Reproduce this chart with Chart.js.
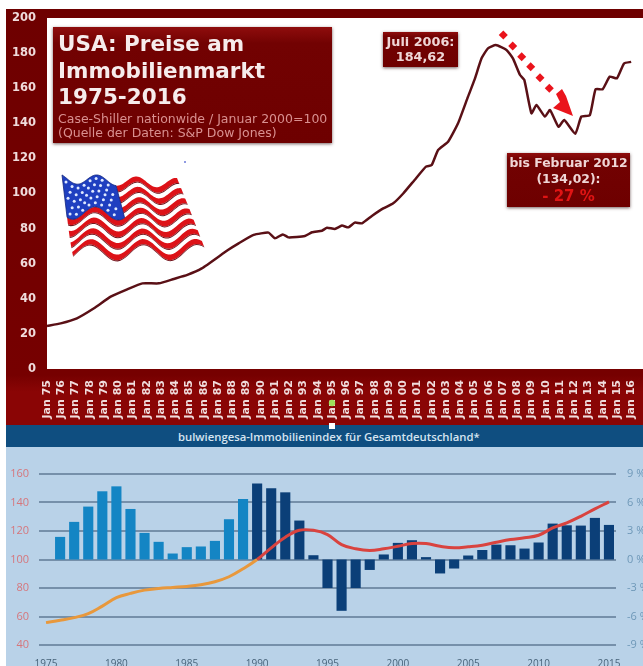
<!DOCTYPE html>
<html>
<head>
<meta charset="utf-8">
<title>Immobilienpreise USA und Deutschland</title>
<script src="https://cdn.jsdelivr.net/npm/chart.js@4"></script>
<style>
  html, body { margin: 0; padding: 0; background: #fff; overflow: hidden; }
  body { position: relative; width: 643px; height: 666px; font-family: "DejaVu Sans", sans-serif; }
  canvas { position: absolute; display: block; }
  #usChart { left: 6px; top: 9px; background: linear-gradient(#6e0000 0, #760000 88%, #8a0505 92%, #8a0505 100%); }
  #deChart { left: 6px; top: 447px; background: #b9d2e8; }
  .box {
    position: absolute; box-sizing: border-box; text-align: center; font-weight: bold; color: #efd6d6;
    background: linear-gradient(#8f0d0d 0, #720202 14%, #6e0000 100%);
    box-shadow: 0 1px 3px rgba(60, 30, 30, .7);
  }
  #titleBox { left: 53px; top: 27px; width: 279px; height: 116px; text-align: left; padding: 4px 0 0 5px; color: #f6ecec; }
  #titleBox .head { font-size: 21.5px; line-height: 26.5px; white-space: nowrap; }
  #titleBox .sub { font-size: 12.5px; line-height: 14px; font-weight: normal; color: #d99090; white-space: nowrap; margin-top: 1px; }
  #peakBox { left: 383px; top: 32px; width: 75px; height: 35px; font-size: 12.8px; line-height: 14.5px; padding-top: 3px; white-space: nowrap; }
  #lowBox { left: 507px; top: 153px; width: 123px; height: 54px; font-size: 12.4px; line-height: 16px; padding-top: 2px; white-space: nowrap; }
  #lowBox .pct { color: #e01414; font-size: 15px; line-height: 18px; }
  #band {
    position: absolute; left: 6px; top: 425px; width: 637px; height: 22px; background: #0f4e80;
    color: #d5e4f0; font: 600 11.3px "Open Sans", sans-serif; line-height: 23px;
  }
  #band span { position: absolute; left: 172px; white-space: nowrap; }
  svg { position: absolute; left: 0; top: 0; }
</style>
</head>
<body>
<canvas id="usChart" width="637" height="416"></canvas>
<div id="band"><span>bulwiengesa-Immobilienindex für Gesamtdeutschland*</span></div>
<canvas id="deChart" width="637" height="219"></canvas>

<div id="titleBox" class="box">
  <div class="head">USA: Preise am<br>Immobilienmarkt<br>1975-2016</div>
  <div class="sub">Case-Shiller nationwide / Januar 2000=100<br>(Quelle der Daten: S&amp;P Dow Jones)</div>
</div>
<div id="peakBox" class="box">Juli 2006:<br>184,62</div>
<div id="lowBox" class="box">bis Februar 2012<br>(134,02):<br><span class="pct">- 27 %</span></div>
<svg id="deco" width="643" height="666"></svg>

<script>
// Case-Shiller national index, year as a decimal
const usDates = [1975, 1975.96, 1977.1, 1978.3, 1979.47, 1980.63, 1981.7, 1982.85, 1983.9, 1984.85,
  1985.86, 1987.7, 1988.45, 1989.5, 1990.55, 1991, 1991.55, 1991.95, 1993.1, 1993.6,
  1994.3, 1994.65, 1995.2, 1995.7, 1996.15, 1996.6, 1997.1, 1997.8, 1998.6, 1999.3,
  2000, 2000.8, 2001.6, 2002, 2002.45, 2003.15, 2003.85, 2004.55, 2005, 2005.5,
  2005.95, 2006.5, 2007.25, 2007.7, 2008.2, 2008.5, 2009, 2009.35, 2009.95, 2010.3,
  2010.9, 2011.3, 2012.08, 2012.5, 2013.1, 2013.5, 2014, 2014.5, 2015, 2015.5, 2016];
const usValues = [24.5, 26, 28.9, 34.6, 41.2, 45.4, 48.8, 48.8, 51.3, 53.6,
  57.3, 67.8, 71.6, 76.4, 77.7, 74.5, 76.7, 75, 75.8, 77.9,
  78.8, 80.5, 79.8, 81.7, 80.7, 83.4, 83, 87.2, 91.5, 94.4,
  100, 107.7, 115.3, 116.2, 124.8, 129.5, 140, 155.2, 164.7, 177,
  182.7, 184.62, 181.8, 177, 167.5, 164.7, 145.7, 150.4, 143.8, 147.6,
  138, 141.9, 134.02, 143.8, 144.7, 159.4, 159.4, 166.6, 165.6, 174.1, 175];
const usFirstYear = 1975;
const usLastYear = 2016;

// bulwiengesa index and yearly change for Germany
const deYears = ["1975", "1976", "1977", "1978", "1979", "1980", "1981", "1982", "1983", "1984",
  "1985", "1986", "1987", "1988", "1989", "1990", "1991", "1992", "1993", "1994",
  "1995", "1996", "1997", "1998", "1999", "2000", "2001", "2002", "2003", "2004",
  "2005", "2006", "2007", "2008", "2009", "2010", "2011", "2012", "2013", "2014", "2015"];
const deChange = [null, 2.38, 3.96, 5.57, 7.18, 7.7, 5.32, 2.8, 1.86, 0.63,
  1.3, 1.37, 1.96, 4.24, 6.37, 8, 7.5, 7.07, 4.1, 0.45,
  -3, -5.4, -3, -1.1, 0.53, 1.75, 2.03, 0.25, -1.47, -0.95,
  0.42, 1, 1.57, 1.5, 1.15, 1.79, 3.78, 3.6, 3.57, 4.38, 3.64];
const deIndex = [55.7, 57.3, 59.2, 62, 67.3, 73.2, 76.2, 78.5, 79.7, 80.4,
  81.1, 82.3, 84.4, 87.9, 93.5, 100, 108.2, 115.6, 120.5, 120.5,
  117.5, 110.5, 107.5, 106.3, 107.5, 109.3, 111.2, 111.2, 109.3, 108.2,
  108.9, 110, 112.1, 114, 115.2, 117, 122.2, 125.7, 130.3, 135.5, 140.4];

// fixed plot box: the scale keeps exactly this size whatever its labels need
function fixSize(width, height) {
  return function (scale) {
    if (width != null) scale.width = width;
    if (height != null) scale.height = height;
    scale.paddingLeft = scale.paddingRight = scale.paddingTop = scale.paddingBottom = 0;
  };
}

const whitePlot = {
  id: "whitePlot",
  beforeDraw(chart) {
    const a = chart.chartArea;
    chart.ctx.fillStyle = "#ffffff";
    chart.ctx.fillRect(a.left, a.top, a.width, a.height);
  }
};

new Chart(document.getElementById("usChart"), {
  type: "line",
  data: {
    datasets: [{
      data: usDates.map((d, i) => ({ x: d, y: usValues[i] })),
      borderColor: "#5a1016",
      borderWidth: 2.5,
      tension: 0.15,
      pointRadius: 0
    }]
  },
  options: {
    responsive: false,
    animation: false,
    layout: { padding: { top: 9 } },
    plugins: { legend: { display: false }, tooltip: { enabled: false } },
    scales: {
      x: {
        type: "linear",
        min: usFirstYear,
        max: 2016.83,
        afterFit: fixSize(null, 56),
        grid: { display: false },
        border: { display: false },
        ticks: {
          stepSize: 1,
          includeBounds: false,
          autoSkip: false,
          minRotation: 90,
          maxRotation: 90,
          padding: 3,
          color: "#f0dcdc",
          font: { family: "DejaVu Sans", size: 11, weight: "bold" },
          callback: v => (v <= usLastYear ? "Jan " + String(v).slice(2) : "")
        }
      },
      y: {
        min: 0,
        max: 200,
        afterFit: fixSize(41, null),
        grid: { display: false },
        border: { display: false },
        ticks: {
          stepSize: 20,
          padding: 3,
          color: "#f0dcdc",
          font: { family: "DejaVu Sans", size: 11.5, weight: "bold" }
        }
      }
    }
  },
  plugins: [whitePlot]
});

new Chart(document.getElementById("deChart"), {
  data: {
    labels: deYears,
    datasets: [
      {
        type: "line",
        order: 0,
        yAxisID: "y",
        data: deIndex,
        borderWidth: 3,
        tension: 0.4,
        pointRadius: 0,
        borderColor: "#d9433f",
        segment: { borderColor: c => (c.p0DataIndex < deYears.indexOf("1990") ? "#e8983c" : "#d9433f") }
      },
      {
        type: "bar",
        order: 1,
        yAxisID: "y2",
        data: deChange,
        barPercentage: 0.72,
        categoryPercentage: 1,
        backgroundColor: deYears.map(y => (+y < 1990 ? "#1485c4" : "#0b3f78"))
      }
    ]
  },
  options: {
    responsive: false,
    animation: false,
    layout: { padding: { top: 27 } },
    plugins: { legend: { display: false }, tooltip: { enabled: false } },
    scales: {
      x: {
        afterFit: fixSize(null, 21),
        grid: { display: false },
        border: { display: false },
        ticks: {
          autoSkip: false,
          maxRotation: 0,
          padding: 5,
          color: "#47637a",
          font: { family: "Open Sans", size: 10 },
          callback(v) { const y = this.getLabelForValue(v); return +y % 5 === 0 ? y : ""; }
        }
      },
      y: {
        position: "left",
        min: 40,
        max: 160,
        afterFit: fixSize(33, null),
        grid: { color: "#7690aa", lineWidth: 2, drawTicks: false },
        border: { display: false },
        ticks: {
          stepSize: 20,
          padding: 10,
          color: "#d5767c",
          font: { family: "Open Sans", size: 11 }
        }
      },
      y2: {
        position: "right",
        min: -9,
        max: 9,
        afterFit: fixSize(27, null),
        grid: { display: false },
        border: { display: false },
        ticks: {
          stepSize: 3,
          padding: 3,
          color: "#6e98b8",
          font: { family: "Open Sans", size: 11 },
          callback: v => v + " %"
        }
      }
    }
  }
});

// overlay artwork: falling arrow, waving flag and two small specks
const deco = document.getElementById("deco");
function add(tag, attrs) {
  const el = document.createElementNS("http://www.w3.org/2000/svg", tag);
  for (const k in attrs) el.setAttribute(k, attrs[k]);
  deco.appendChild(el);
  return el;
}

[[503.3, 35], [512.7, 46], [521.7, 56.7], [530.7, 66.7], [540, 77.7], [549.3, 88.3]].forEach(p => {
  add("rect", { x: p[0] - 3.2, y: p[1] - 3.2, width: 6.4, height: 6.4, fill: "#ea141c",
    transform: `rotate(45 ${p[0]} ${p[1]})` });
});
add("polygon", { points: "556,94 562,89 566,96 573,116 553,108 560,102", fill: "#ea141c" });

add("circle", { cx: 185, cy: 162, r: 1, fill: "#6a78d8" });
add("circle", { cx: 332, cy: 403, r: 3.2, fill: "#9fe05a" });
add("rect", { x: 329, y: 423, width: 6, height: 6, fill: "#ffffff" });

// flag surface: u runs along the stripes, v across them
function flagPoint(u, v) {
  const leftX = 62 + v * 11, leftY = 178.6 + v * 74;
  const rightX = 177 + v * 27, rightY = 183 + v * 69;
  const phase = (2.9 - 0.45 * v) * u - 0.13 + 0.56 * v;
  const wave = (5 + 3 * v) * Math.sin(2 * Math.PI * phase);
  return [leftX + (rightX - leftX) * u, leftY + (rightY - leftY) * u + wave];
}
function flagPath(u0, u1, v0, v1) {
  const top = [], bottom = [];
  for (let i = 0; i <= 50; i++) {
    const u = u0 + (u1 - u0) * i / 50;
    top.push(flagPoint(u, v0).join(","));
    bottom.unshift(flagPoint(u, v1).join(","));
  }
  return "M" + top.concat(bottom).join(" L") + " Z";
}
const cantonEnd = 0.47;
const cantonDepth = 6 / 13;
for (let s = 0; s < 7; s++) {
  const v0 = s * 2 / 13, v1 = v0 + 1 / 13;
  const u0 = v0 < cantonDepth ? cantonEnd : 0;
  add("path", { d: flagPath(u0, 1, v0, v1), fill: "#dd1218" });
  add("path", { d: flagPath(u0, 1, v1, v1 + 0.014), fill: "#74141c" });
}
add("path", { d: flagPath(0, cantonEnd, 0, cantonDepth), fill: "#1f3fc0", stroke: "#12257e", "stroke-width": 0.8 });
for (let r = 0; r < 5; r++) {
  for (let c = 0; c < 8; c++) {
    const p = flagPoint(0.03 + (c + (r % 2) * 0.5) * 0.052, 0.05 + r * 0.088);
    add("circle", { cx: p[0], cy: p[1], r: 1.5, fill: "#dfe9ff" });
  }
}
</script>
</body>
</html>
